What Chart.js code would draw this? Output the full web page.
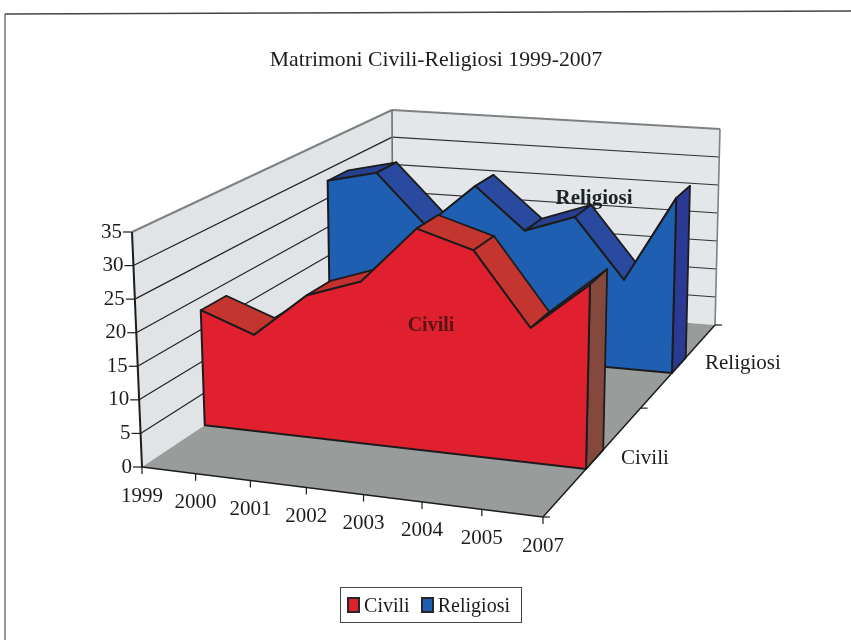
<!DOCTYPE html>
<html>
<head>
<meta charset="utf-8">
<title>Matrimoni Civili-Religiosi 1999-2007</title>
<script src="https://cdn.jsdelivr.net/npm/chart.js@4/dist/chart.umd.min.js"></script>
<style>
  html, body { margin: 0; padding: 0; background: #fff; overflow: hidden; }
  #wrap { position: relative; width: 851px; height: 640px; }
  #legend {
    position: absolute; left: 340px; top: 587px; width: 182px; height: 36px;
    box-sizing: border-box; border: 1.2px solid #444; padding-left: 6px;
    display: flex; align-items: center; color: #1c1c1c;
    font: 20px 'Liberation Serif', 'Times New Roman', serif;
  }
  #legend .swatch { width: 15px; height: 16px; box-sizing: border-box; border: 2px solid #262626; margin-right: 4px; }
  #legend .name { margin-right: 11px; }
</style>
</head>
<body>
<div id="wrap">
  <canvas id="chart"></canvas>
  <div id="legend"></div>
</div>
<script>
// === DATA ===
const years = ["1999", "2000", "2001", "2002", "2003", "2004", "2005", "2007"];
const civili = [18, 15, 22, 25, 34, 31.5, 20.5, 28];
const religiosi = [28, 30, 21.5, 29, 22, 25, 15, 29.5];

const FONT = "'Liberation Serif', 'Times New Roman', serif";
const INK = "#1c1c1c";

// corners of the 3D box on the page: [category, depth, height]
const corners = {
  "000": [142, 467], "001": [132, 232],
  "100": [543, 517], "101": [548, 275],
  "010": [393, 300], "011": [392, 110],
  "110": [715, 325], "111": [720, 129]
};

const lerp = (a, b, t) => a + (b - a) * t;

// trilinear projection, good enough for this weak perspective
function project(u, w, h) {
  // categories get wider towards the front right corner
  const k = lerp(1.08, 1, w);
  const uu = u / (u + (1 - u) * k);
  const out = [];
  for (let c = 0; c < 2; c++) {
    const front = lerp(lerp(corners["000"][c], corners["100"][c], uu), lerp(corners["001"][c], corners["101"][c], uu), h);
    const back = lerp(lerp(corners["010"][c], corners["110"][c], uu), lerp(corners["011"][c], corners["111"][c], uu), h);
    out.push(lerp(front, back, w));
  }
  return out;
}

function poly(ctx, pts, fill, stroke, lineWidth) {
  ctx.beginPath();
  pts.forEach((p, i) => (i ? ctx.lineTo(p[0], p[1]) : ctx.moveTo(p[0], p[1])));
  ctx.closePath();
  if (fill) { ctx.fillStyle = fill; ctx.fill(); }
  if (stroke) { ctx.strokeStyle = stroke; ctx.lineWidth = lineWidth || 2; ctx.lineJoin = "round"; ctx.stroke(); }
}

function line(ctx, a, b, color, lineWidth) {
  ctx.beginPath();
  ctx.moveTo(a[0], a[1]);
  ctx.lineTo(b[0], b[1]);
  ctx.strokeStyle = color;
  ctx.lineWidth = lineWidth;
  ctx.stroke();
}

function label(ctx, text, x, y, font, align, color) {
  ctx.font = font;
  ctx.textAlign = align;
  ctx.textBaseline = "middle";
  ctx.fillStyle = color || INK;
  ctx.fillText(text, x, y);
}

// === WALLS, FLOOR, AXES ===
function drawBox(chart, ctx) {
  const area = chart.chartArea;
  const yScale = chart.scales.y;
  const heightOf = (v) => (area.bottom - yScale.getPixelForValue(v)) / area.height;

  poly(ctx, [project(0, 0, 0), project(0, 1, 0), project(0, 1, 1), project(0, 0, 1)], "#e1e4e7");
  poly(ctx, [project(0, 1, 0), project(1, 1, 0), project(1, 1, 1), project(0, 1, 1)], "#e4e7e9");
  poly(ctx, [project(0, 0, 0), project(1, 0, 0), project(1, 1, 0), project(0, 1, 0)], "#989d9b");

  yScale.ticks.forEach((t) => {
    const h = heightOf(t.value);
    if (t.value > 0 && t.value < 35) {
      line(ctx, project(0, 0, h), project(0, 1, h), "#222", 1.2);
      line(ctx, project(0, 1, h), project(1, 1, h), "#333", 1.2);
    }
    const p = project(0, 0, h);
    line(ctx, [p[0] - 9, p[1]], p, INK, 1.2);
    label(ctx, t.label, p[0] - 10, p[1], "21px " + FONT, "right");
  });

  // top rim of the walls and the corner
  line(ctx, project(0, 0, 1), project(0, 1, 1), "#7d8181", 2);
  line(ctx, project(0, 1, 1), project(1, 1, 1), "#7d8181", 2);
  line(ctx, project(1, 1, 1), project(1, 1, 0), "#7d8181", 1.6);
  line(ctx, project(0, 1, 1), project(0, 1, 0), "#6d7171", 1.6);
  line(ctx, project(0, 0, 1), project(0, 0, 0), INK, 2);

  // floor edges
  line(ctx, project(0, 0, 0), project(1, 0, 0), INK, 1.5);
  line(ctx, project(1, 0, 0), project(1, 1, 0), INK, 1.5);
}

function drawCategoryTicks(chart, ctx) {
  const area = chart.chartArea;
  const xScale = chart.scales.x;
  years.forEach((year, i) => {
    const u = (xScale.getPixelForValue(i) - area.left) / area.width;
    const p = project(u, 0, 0);
    line(ctx, p, [p[0], p[1] + 7], INK, 1.2);
    label(ctx, year, p[0], p[1] + 29, "21px " + FONT, "center");
  });

  // series axis on the right
  [0, 0.567, 1].forEach((w) => {
    const p = project(1, w, 0);
    line(ctx, p, [p[0] + 7, p[1]], INK, 1.2);
  });
}

// === ONE 3D AREA ===
function drawSeries(chart, ctx, index, depthFront, depthBack, colors) {
  const area = chart.chartArea;
  const pts = chart.getDatasetMeta(index).data.map((el) => ({
    u: (el.x - area.left) / area.width,
    h: (area.bottom - el.y) / area.height
  }));
  const last = pts[pts.length - 1];

  for (let i = 0; i < pts.length - 1; i++) {
    const a = pts[i], b = pts[i + 1];
    const rising = b.h > a.h;
    poly(ctx, [
      project(a.u, depthFront, a.h), project(b.u, depthFront, b.h),
      project(b.u, depthBack, b.h), project(a.u, depthBack, a.h)
    ], rising ? colors.topUp : colors.topDown, INK, 1.8);
  }

  poly(ctx, [
    project(last.u, depthFront, 0), project(last.u, depthBack, 0),
    project(last.u, depthBack, last.h), project(last.u, depthFront, last.h)
  ], colors.side, INK, 1.8);

  const face = pts.map((p) => project(p.u, depthFront, p.h));
  face.push(project(last.u, depthFront, 0), project(pts[0].u, depthFront, 0));
  poly(ctx, face, colors.front, INK, 2);
}

const scene3d = {
  id: "scene3d",
  beforeDraw(chart) {
    const ctx = chart.ctx;
    ctx.save();
    // page frame
    line(ctx, [5, 14], [851, 11], "#444", 1.4);
    line(ctx, [5, 14], [5, 640], "#555", 1.2);
    ctx.restore();
  },
  beforeDatasetsDraw(chart) {
    const ctx = chart.ctx;
    ctx.save();
    drawBox(chart, ctx);
    drawSeries(chart, ctx, 1, 0.75, 0.83, { front: "#1f5fb2", topUp: "#26408f", topDown: "#2a4aa0", side: "#2b3a94" });
    drawSeries(chart, ctx, 0, 0.25, 0.35, { front: "#e0202e", topUp: "#c4302e", topDown: "#c4352f", side: "#85483c" });
    drawCategoryTicks(chart, ctx);

    // labels inside the areas and on the series axis
    label(ctx, chart.data.datasets[0].label, 431, 326, "bold 20px " + FONT, "center", "#5a1512");
    label(ctx, chart.data.datasets[1].label, 594, 199, "bold 21px " + FONT, "center", "#1c2428");
    label(ctx, chart.data.datasets[0].label, 621, 458, "21px " + FONT, "left");
    label(ctx, chart.data.datasets[1].label, 705, 363, "21px " + FONT, "left");
    ctx.restore();
  }
};

const chart = new Chart(document.getElementById("chart"), {
  type: "line",
  data: {
    labels: years,
    datasets: [
      { label: "Civili", data: civili, backgroundColor: "#e0202e", borderColor: INK, showLine: false, pointRadius: 0 },
      { label: "Religiosi", data: religiosi, backgroundColor: "#1f5fb2", borderColor: INK, showLine: false, pointRadius: 0 }
    ]
  },
  options: {
    responsive: true,
    maintainAspectRatio: false,
    animation: false,
    layout: { padding: { left: 21, right: 0, top: 47, bottom: 60 } },
    scales: {
      x: { display: false, offset: false },
      y: { display: false, min: 0, max: 35, ticks: { stepSize: 5 } }
    },
    plugins: {
      tooltip: { enabled: false },
      legend: { display: false },
      title: {
        display: true,
        text: "Matrimoni Civili-Religiosi 1999-2007",
        color: INK,
        font: { family: FONT, size: 21.7, weight: "normal" },
        padding: 0
      }
    }
  },
  plugins: [scene3d]
});

// === Legend ===
const legendBox = document.getElementById("legend");
chart.data.datasets.forEach((ds) => {
  const swatch = document.createElement("span");
  swatch.className = "swatch";
  swatch.style.background = ds.backgroundColor;
  const name = document.createElement("span");
  name.className = "name";
  name.textContent = ds.label;
  legendBox.appendChild(swatch);
  legendBox.appendChild(name);
});
</script>
</body>
</html>
